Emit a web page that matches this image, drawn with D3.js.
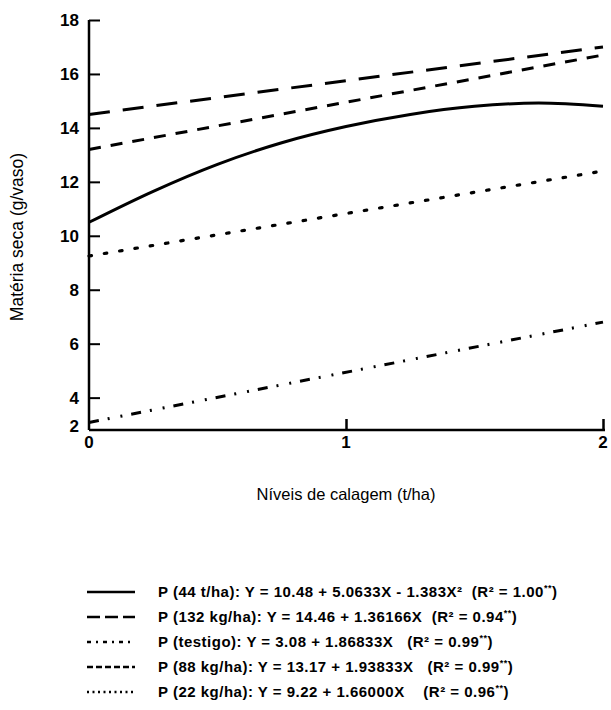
<!DOCTYPE html>
<html><head><meta charset="utf-8">
<script src="https://cdn.jsdelivr.net/npm/d3@7"></script>
<style>body{margin:0;background:#fff}svg{display:block}</style>
</head><body>
<script>
// ---- data ----
const xTicks = [0, 1, 2];
const yTicks = [4, 6, 8, 10, 12, 14, 16, 18];
const yAxisMin = 2.8;          // bottom of the drawn axis (labelled "2" in the original)
const yAxisMinLabel = "2";
const xLevels = [0, 0.25, 0.5, 0.75, 1, 1.25, 1.5, 1.75, 2];
const p44 = [10.5, 11.65, 12.65, 13.45, 14.05, 14.5, 14.8, 14.92, 14.8];
const xEnds = [0, 2];
const p132 = [14.5, 17.0];
const testigo = [3.08, 6.8];
const p88 = [13.2, 16.7];
const p22 = [9.25, 12.4];
const seriesNames = ["P (44 t/ha)", "P (132 kg/ha)", "P (testigo)", "P (88 kg/ha)", "P (22 kg/ha)"];
const equations = [
  ": Y = 10.48 + 5.0633X - 1.383X²  (R² = 1.00",
  ": Y = 14.46 + 1.36166X  (R² = 0.94",
  ": Y = 3.08 + 1.86833X   (R² = 0.99",
  ": Y = 13.17 + 1.93833X   (R² = 0.99",
  ": Y = 9.22 + 1.66000X    (R² = 0.96"
];

const W = 611, H = 710;
const svg = d3.select("body").append("svg").attr("width", W).attr("height", H)
  .style("font-family", "'Liberation Sans', Arial, sans-serif");

const x = d3.scaleLinear().domain([0, 2]).range([89, 603]);
const y = d3.scaleLinear().domain([yAxisMin, 18]).range([430, 20]);

// axes
const yAxis = d3.axisRight(y).tickValues(yTicks).tickSize(11).tickFormat("");
const gy = svg.append("g").attr("transform", `translate(${x(0)},0)`).call(yAxis);
gy.select(".domain").remove();
gy.selectAll(".tick line").attr("stroke", "#000").attr("stroke-width", 2);
svg.append("line").attr("x1", x(0)).attr("x2", x(0)).attr("y1", y(18)).attr("y2", y(yAxisMin))
  .attr("stroke", "#000").attr("stroke-width", 2.5);
svg.selectAll(".ylab").data(yTicks).join("text")
  .attr("x", 79).attr("y", d => y(d)).attr("dy", "0.36em")
  .attr("text-anchor", "end").attr("font-size", 17).attr("font-weight", "bold").text(d => d);
svg.append("text").attr("x", 79).attr("y", y(yAxisMin) - 4).attr("dy", "0.36em")
  .attr("text-anchor", "end").attr("font-size", 17).attr("font-weight", "bold").text(yAxisMinLabel);

const xAxis = d3.axisTop(x).tickValues(xTicks.slice(1)).tickSize(11).tickFormat("");
const gx = svg.append("g").attr("transform", `translate(0,${y(yAxisMin)})`).call(xAxis);
gx.select(".domain").remove();
gx.selectAll(".tick line").attr("stroke", "#000").attr("stroke-width", 2.5);
svg.append("line").attr("x1", x(0)).attr("x2", x(2) + 2).attr("y1", y(yAxisMin)).attr("y2", y(yAxisMin))
  .attr("stroke", "#000").attr("stroke-width", 2.5);
svg.selectAll(".xlab").data(xTicks).join("text")
  .attr("x", d => x(d)).attr("y", y(yAxisMin) + 18)
  .attr("text-anchor", "middle").attr("font-size", 17).attr("font-weight", "bold").text(d => d);

// titles
svg.append("text").attr("transform", `translate(23,${(y(18) + y(yAxisMin)) / 2 + 12}) rotate(-90)`)
  .attr("text-anchor", "middle").attr("font-size", 17.5).text("Matéria seca (g/vaso)");
svg.append("text").attr("x", x(1)).attr("y", 500)
  .attr("text-anchor", "middle").attr("font-size", 16.5).text("Níveis de calagem (t/ha)");

// series
const styles = [
  { dash: null, w: 3 },
  { dash: "21,13", w: 3 },
  { dash: "10,9,2,11,2,9", w: 3 },
  { dash: "12,10", w: 3 },
  { dash: "2.5,13", w: 3.2 }
];
const legendDash = [null, "13,5", "4,5,2,5", "6,3", "2,3.5"];
const line = d3.line().x(d => x(d[0])).y(d => y(d[1]));
const curve = d3.line().x(d => x(d[0])).y(d => y(d[1])).curve(d3.curveMonotoneX);
const data = [
  d3.zip(xLevels, p44),
  d3.zip(xEnds, p132),
  d3.zip(xEnds, testigo),
  d3.zip(xEnds, p88),
  d3.zip(xEnds, p22)
];
data.forEach((d, i) => {
  svg.append("path").attr("d", (i === 0 ? curve : line)(d))
    .attr("fill", "none").attr("stroke", "#000")
    .attr("stroke-width", styles[i].w)
    .attr("stroke-dasharray", styles[i].dash)
    .attr("stroke-linecap", i === 4 ? "round" : "butt");
});

// legend
const legY = [592, 617, 642, 667, 692];
seriesNames.forEach((n, i) => {
  svg.append("line").attr("x1", 87).attr("x2", 135).attr("y1", legY[i]).attr("y2", legY[i])
    .attr("stroke", "#000").attr("stroke-width", 2.5)
    .attr("stroke-dasharray", legendDash[i]);
  const t = svg.append("text").attr("x", 158).attr("y", legY[i]).attr("dy", "0.36em")
    .attr("font-size", 15).attr("font-weight", "bold").attr("letter-spacing", 0.5)
    .style("white-space", "pre");
  t.append("tspan").text(n + equations[i]);
  t.append("tspan").attr("font-size", 9).attr("dy", "-6").text("**");
  t.append("tspan").attr("dy", "6").text(")");
});
</script>
</body></html>
